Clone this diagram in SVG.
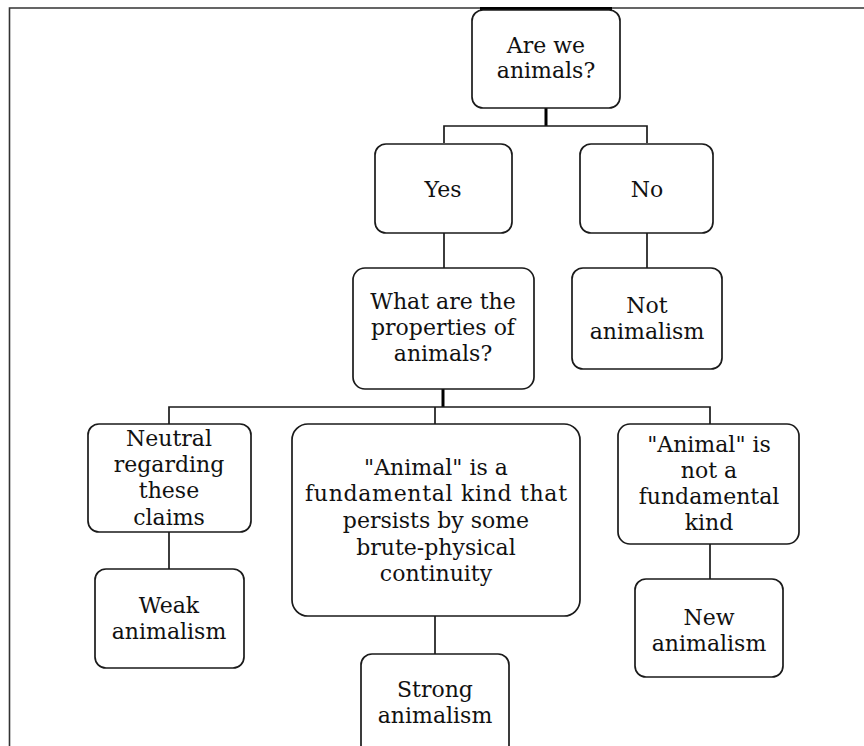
<svg xmlns="http://www.w3.org/2000/svg" width="864" height="746" viewBox="0 0 864 746">
<style>
.box{fill:#fff;stroke:#1a1a1a;stroke-width:1.7}
.t{font-family:"DejaVu Serif",serif;font-size:22px;fill:#111;text-anchor:middle}
.c{stroke:#1a1a1a;stroke-width:1.7;fill:none}
.ck{stroke:#000;stroke-width:3;fill:none}
.frame{stroke:#333;stroke-width:1.6;fill:none}
</style>
<rect width="864" height="746" fill="#fff"/>
<g id="frame">
<path class="frame" d="M9.5 746 V8 H864"/>
<line x1="480" y1="8.5" x2="612" y2="8.5" stroke="#000" stroke-width="3"/>
</g>
<g id="connectors">
<path class="ck" d="M546 108 V126"/>
<path class="c" d="M444 143 V126 H647 V143"/>
<path class="c" d="M444 232 V268"/>
<path class="c" d="M647 232 V268"/>
<path class="ck" d="M443 389 V407"/>
<path class="c" d="M169 424 V407 H710 V424"/>
<path class="c" d="M435 407 V424"/>
<path class="c" d="M169 532 V569"/>
<path class="c" d="M435 616 V654"/>
<path class="c" d="M710 544 V579"/>
</g>
<g id="n-are-we">
<rect class="box" x="472" y="10" width="148" height="98" rx="11"/>
<text class="t" x="546" y="53">Are we</text>
<text class="t" x="546" y="78">animals?</text>
</g>
<g id="n-yes">
<rect class="box" x="375" y="144" width="137" height="89" rx="11"/>
<text class="t" x="443" y="197">Yes</text>
</g>
<g id="n-no">
<rect class="box" x="580" y="144" width="133" height="89" rx="11"/>
<text class="t" x="647" y="197">No</text>
</g>
<g id="n-what">
<rect class="box" x="353" y="268" width="181" height="121" rx="12"/>
<text class="t" x="443" y="309">What are the</text>
<text class="t" x="443" y="335">properties of</text>
<text class="t" x="443" y="361">animals?</text>
</g>
<g id="n-not-animalism">
<rect class="box" x="572" y="268" width="150" height="101" rx="11"/>
<text class="t" x="647" y="313">Not</text>
<text class="t" x="647" y="339">animalism</text>
</g>
<g id="n-neutral">
<rect class="box" x="88" y="424" width="163" height="108" rx="11"/>
<text class="t" x="169" y="446">Neutral</text>
<text class="t" x="169" y="472">regarding</text>
<text class="t" x="169" y="498">these</text>
<text class="t" x="169" y="525">claims</text>
</g>
<g id="n-fundamental">
<rect class="box" x="292" y="424" width="288" height="192" rx="16"/>
<text class="t" x="436" y="475">"Animal" is a</text>
<text class="t" x="436" y="501" textLength="262" lengthAdjust="spacing">fundamental kind that</text>
<text class="t" x="436" y="528">persists by some</text>
<text class="t" x="436" y="555">brute-physical</text>
<text class="t" x="436" y="581">continuity</text>
</g>
<g id="n-not-fundamental">
<rect class="box" x="618" y="424" width="181" height="120" rx="12"/>
<text class="t" x="709" y="452">"Animal" is</text>
<text class="t" x="709" y="478">not a</text>
<text class="t" x="709" y="504">fundamental</text>
<text class="t" x="709" y="530">kind</text>
</g>
<g id="n-weak">
<rect class="box" x="95" y="569" width="149" height="99" rx="11"/>
<text class="t" x="169" y="613">Weak</text>
<text class="t" x="169" y="639">animalism</text>
</g>
<g id="n-strong">
<rect class="box" x="361" y="654" width="148" height="110" rx="11"/>
<text class="t" x="435" y="697">Strong</text>
<text class="t" x="435" y="723">animalism</text>
</g>
<g id="n-new">
<rect class="box" x="635" y="579" width="148" height="98" rx="11"/>
<text class="t" x="709" y="625">New</text>
<text class="t" x="709" y="651">animalism</text>
</g>
</svg>
